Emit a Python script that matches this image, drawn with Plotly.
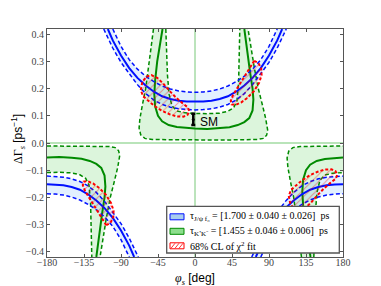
import plotly.graph_objects as go

# ---------------- ticks ----------------
x_ticks = [-180, -135, -90, -45, 0, 45, 90, 135, 180]
x_tick_labels = ["−180", "−135", "−90", "−45", "0", "45", "90", "135", "180"]
y_ticks = [0.4, 0.3, 0.2, 0.1, 0.0, -0.1, -0.2, -0.3, -0.4]
y_tick_labels = ["0.4", "0.3", "0.2", "0.1", "0.0", "−0.1", "−0.2", "−0.3", "−0.4"]

# ---------------- blue: tau_{J/psi f0} (upper half) ----------------
blue_phi_up = [-106, -100, -90, -80, -70, -60, -50, -40, -30, -20, -10, 0, 10, 20, 30, 40, 50, 60, 70, 80, 90, 100, 106]
blue_dg_up = [0.42, 0.378, 0.322, 0.276, 0.240, 0.212, 0.189, 0.172, 0.162, 0.156, 0.153, 0.152,
              0.153, 0.156, 0.162, 0.172, 0.189, 0.212, 0.240, 0.276, 0.322, 0.378, 0.42]
blue_hi_phi_up = [-100, -90, -80, -70, -60, -50, -40, -30, -20, -10, 0, 10, 20, 30, 40, 50, 60, 70, 80, 90, 100]
blue_hi_dg_up = [0.42, 0.356, 0.307, 0.272, 0.246, 0.226, 0.21, 0.199, 0.192, 0.188, 0.187,
                 0.188, 0.192, 0.199, 0.21, 0.226, 0.246, 0.272, 0.307, 0.356, 0.42]
blue_lo_phi_up = [-111, -100, -90, -80, -70, -60, -50, -40, -30, -20, -10, 0, 10, 20, 30, 40, 50, 60, 70, 80, 90, 100, 111]
blue_lo_dg_up = [0.42, 0.35, 0.297, 0.254, 0.215, 0.182, 0.158, 0.142, 0.132, 0.126, 0.123, 0.122,
                 0.123, 0.126, 0.132, 0.142, 0.158, 0.182, 0.215, 0.254, 0.297, 0.35, 0.42]

# ---------------- blue (lower half, right and left pieces) ----------------
blue_phi_lr = [74, 80, 90, 100, 110, 120, 130, 140, 150, 160, 170, 180]
blue_dg_lr = [-0.42, -0.378, -0.322, -0.276, -0.240, -0.212, -0.189, -0.172, -0.162, -0.156, -0.153, -0.152]
blue_phi_ll = [-180, -170, -160, -150, -140, -130, -120, -110, -100, -90, -80, -74]
blue_dg_ll = [-0.152, -0.153, -0.156, -0.162, -0.172, -0.189, -0.212, -0.240, -0.276, -0.322, -0.378, -0.42]
blue_hi_phi_lr = [80, 90, 100, 110, 120, 130, 140, 150, 160, 170, 180]
blue_hi_dg_lr = [-0.42, -0.356, -0.307, -0.272, -0.246, -0.226, -0.21, -0.199, -0.192, -0.188, -0.187]
blue_hi_phi_ll = [-180, -170, -160, -150, -140, -130, -120, -110, -100, -90, -80]
blue_hi_dg_ll = [-0.187, -0.188, -0.192, -0.199, -0.21, -0.226, -0.246, -0.272, -0.307, -0.356, -0.42]
blue_lo_phi_lr = [69, 80, 90, 100, 110, 120, 130, 140, 150, 160, 170, 180]
blue_lo_dg_lr = [-0.42, -0.35, -0.297, -0.254, -0.215, -0.182, -0.158, -0.142, -0.132, -0.126, -0.123, -0.122]
blue_lo_phi_ll = [-180, -170, -160, -150, -140, -130, -120, -110, -100, -90, -80, -69]
blue_lo_dg_ll = [-0.122, -0.123, -0.126, -0.132, -0.142, -0.158, -0.182, -0.215, -0.254, -0.297, -0.35, -0.42]

# ---------------- green: tau_{K+K-} (upper half) ----------------
green_phi_up = [-39.5, -43, -46, -48.5, -49.5, -48.5, -45, -40, -32, -22, -10, 0, 15, 30, 42, 52, 60, 66, 70, 71, 70, 67, 63.5, 60]
green_dg_up = [0.42, 0.36, 0.30, 0.23, 0.18, 0.135, 0.10, 0.08, 0.066, 0.059, 0.055, 0.053,
               0.052, 0.054, 0.058, 0.066, 0.077, 0.092, 0.12, 0.16, 0.20, 0.26, 0.34, 0.42]
green_in_phi_up = [-35.5, -34.5, -33.5, -31.5, -28, -22, -12, 0, 15, 30, 40, 47, 51, 53, 54, 54.5]
green_in_dg_up = [0.42, 0.33, 0.25, 0.18, 0.137, 0.118, 0.111, 0.109, 0.108, 0.11, 0.117, 0.13, 0.155, 0.22, 0.32, 0.42]
green_out_phi_up = [-50.5, -54, -57, -60, -64, -67, -68, -66, -61, -52, -30, 0, 30, 60, 76, 83, 87, 88.5, 86, 82, 77, 72, 68, 64.5]
green_out_dg_up = [0.42, 0.34, 0.26, 0.2, 0.14, 0.09, 0.055, 0.03, 0.017, 0.013, 0.012, 0.011,
                   0.011, 0.012, 0.013, 0.017, 0.028, 0.045, 0.09, 0.14, 0.2, 0.28, 0.35, 0.42]

# ---------------- green (lower half) ----------------
green_phi_lr = [140.5, 137, 134, 131.5, 130.5, 131.5, 135, 140, 148, 158, 170, 180]
green_dg_lr = [-0.42, -0.36, -0.30, -0.23, -0.18, -0.135, -0.10, -0.08, -0.066, -0.059, -0.055, -0.053]
green_phi_ll = [-180, -165, -150, -138, -128, -120, -114, -110, -109, -110, -113, -116.5, -120]
green_dg_ll = [-0.053, -0.052, -0.054, -0.058, -0.066, -0.077, -0.092, -0.12, -0.16, -0.20, -0.26, -0.34, -0.42]
green_in_phi_lr = [144.5, 145.5, 146.5, 148.5, 152, 158, 168, 180]
green_in_dg_lr = [-0.42, -0.33, -0.25, -0.18, -0.137, -0.118, -0.111, -0.109]
green_in_phi_ll = [-180, -165, -150, -140, -133, -129, -127, -126, -125.5]
green_in_dg_ll = [-0.109, -0.108, -0.11, -0.117, -0.13, -0.155, -0.22, -0.32, -0.42]
green_out_phi_lr = [129.5, 126, 123, 120, 116, 113, 112, 114, 119, 128, 150, 180]
green_out_dg_lr = [-0.42, -0.34, -0.26, -0.2, -0.14, -0.09, -0.055, -0.03, -0.017, -0.013, -0.012, -0.011]
green_out_phi_ll = [-180, -150, -120, -104, -97, -93, -91.5, -94, -98, -103, -108, -112, -115.5]
green_out_dg_ll = [-0.011, -0.011, -0.012, -0.013, -0.017, -0.028, -0.045, -0.09, -0.14, -0.2, -0.28, -0.35, -0.42]

# ---------------- red: 68% CL regions of chi^2 fit ----------------
red_ul_phi = [-66, -64, -59, -53, -46, -39, -31, -23, -15, -9, -7, -9, -14, -22, -31, -41, -50, -58, -63, -66]
red_ul_dg = [0.195, 0.225, 0.245, 0.25, 0.24, 0.22, 0.192, 0.167, 0.146, 0.132, 0.118, 0.104,
             0.097, 0.098, 0.106, 0.12, 0.138, 0.157, 0.172, 0.195]
red_ur_phi = [72, 77, 80.5, 81, 78, 72, 64, 56, 49, 44.5, 43.5, 46, 52, 59, 65, 69, 72]
red_ur_dg = [0.303, 0.295, 0.275, 0.25, 0.222, 0.192, 0.167, 0.149, 0.14, 0.142, 0.155, 0.175,
             0.205, 0.24, 0.272, 0.293, 0.303]
red_ll_phi = [-108, -103, -99.5, -99, -102, -108, -116, -124, -131, -135.5, -136.5, -134, -128, -121, -115, -111, -108]
red_ll_dg = [-0.303, -0.295, -0.275, -0.25, -0.222, -0.192, -0.167, -0.149, -0.14, -0.142, -0.155, -0.175,
             -0.205, -0.24, -0.272, -0.293, -0.303]
red_lr_phi = [114, 116, 121, 127, 134, 141, 149, 157, 165, 171, 173, 171, 166, 158, 149, 139, 130, 122, 117, 114]
red_lr_dg = [-0.195, -0.225, -0.245, -0.25, -0.24, -0.22, -0.192, -0.167, -0.146, -0.132, -0.118, -0.104,
             -0.097, -0.098, -0.106, -0.12, -0.138, -0.157, -0.172, -0.195]

# ---------------- Standard Model point ----------------
sm_phi = [-2.1]
sm_dg = [0.087]
sm_err = [0.021]

legend_labels = [
    "τ<sub>J/ψ f₀</sub> = [1.700 ± 0.040 ± 0.026]  ps",
    "τ<sub>K⁺K⁻</sub> = [1.455 ± 0.046 ± 0.006]  ps",
    "68% CL of χ<sup>2</sup> fit",
]

# ---------------- styles ----------------
BLUE = "#0010ff"
GREEN = "#008a00"
BLUE_FILL = "rgba(150,200,255,0.28)"
GREEN_FILL = "rgba(110,215,110,0.24)"
DASH = "4px,2.5px"

fig = go.Figure()


def add_band(phi_a, dg_a, phi_b, dg_b, color):
    fig.add_trace(go.Scatter(
        x=list(phi_a) + list(phi_b)[::-1], y=list(dg_a) + list(dg_b)[::-1],
        mode="none", fill="toself", fillcolor=color, hoverinfo="skip", showlegend=False))


def add_line(phi, dg, color, width, dash=None):
    fig.add_trace(go.Scatter(
        x=phi, y=dg, mode="lines", line=dict(color=color, width=width, dash=dash),
        hoverinfo="skip", showlegend=False))


# green bands
add_band(green_out_phi_up, green_out_dg_up, green_in_phi_up, green_in_dg_up, GREEN_FILL)
add_band(green_out_phi_lr, green_out_dg_lr, green_in_phi_lr, green_in_dg_lr, GREEN_FILL)
add_band(green_out_phi_ll, green_out_dg_ll, green_in_phi_ll, green_in_dg_ll, GREEN_FILL)
# blue bands
add_band(blue_hi_phi_up, blue_hi_dg_up, blue_lo_phi_up, blue_lo_dg_up, BLUE_FILL)
add_band(blue_hi_phi_lr, blue_hi_dg_lr, blue_lo_phi_lr, blue_lo_dg_lr, BLUE_FILL)
add_band(blue_hi_phi_ll, blue_hi_dg_ll, blue_lo_phi_ll, blue_lo_dg_ll, BLUE_FILL)

# reference lines at zero
fig.add_trace(go.Scatter(x=[-180, 180], y=[0, 0], mode="lines",
                         line=dict(color="rgb(185,228,185)", width=2), hoverinfo="skip", showlegend=False))
fig.add_trace(go.Scatter(x=[0, 0], y=[-0.42, 0.42], mode="lines",
                         line=dict(color="rgb(120,200,120)", width=1), hoverinfo="skip", showlegend=False))

# green lines
for p, d in [(green_out_phi_up, green_out_dg_up), (green_in_phi_up, green_in_dg_up),
             (green_out_phi_lr, green_out_dg_lr), (green_in_phi_lr, green_in_dg_lr),
             (green_out_phi_ll, green_out_dg_ll), (green_in_phi_ll, green_in_dg_ll)]:
    add_line(p, d, GREEN, 1.5, DASH)
for p, d in [(green_phi_up, green_dg_up), (green_phi_lr, green_dg_lr), (green_phi_ll, green_dg_ll)]:
    add_line(p, d, GREEN, 2)

# blue lines
for p, d in [(blue_hi_phi_up, blue_hi_dg_up), (blue_lo_phi_up, blue_lo_dg_up),
             (blue_hi_phi_lr, blue_hi_dg_lr), (blue_lo_phi_lr, blue_lo_dg_lr),
             (blue_hi_phi_ll, blue_hi_dg_ll), (blue_lo_phi_ll, blue_lo_dg_ll)]:
    add_line(p, d, BLUE, 1.5, DASH)
for p, d in [(blue_phi_up, blue_dg_up), (blue_phi_lr, blue_dg_lr), (blue_phi_ll, blue_dg_ll)]:
    add_line(p, d, BLUE, 2)

# red hatched regions
for p, d in [(red_ul_phi, red_ul_dg), (red_ur_phi, red_ur_dg), (red_ll_phi, red_ll_dg), (red_lr_phi, red_lr_dg)]:
    fig.add_trace(go.Scatter(
        x=p, y=d, mode="lines", fill="toself", fillcolor="rgba(0,0,0,0)",
        fillpattern=dict(shape="/", fgcolor="rgba(255,0,0,0.85)", bgcolor="rgba(0,0,0,0)",
                         size=5, solidity=0.18),
        line=dict(color="red", width=2, dash="3px,2px"), hoverinfo="skip", showlegend=False))

# SM point
fig.add_trace(go.Scatter(
    x=sm_phi, y=sm_dg, mode="markers", marker=dict(size=3, color="black"),
    error_y=dict(type="data", array=sm_err, color="black", thickness=2.5, width=2),
    hoverinfo="skip", showlegend=False))

# ---------------- layout ----------------
# the page body has an 8px margin, so the figure is sized to end at the window edge
OFF = 8
W, H = 381 - OFF, 286 - OFF
PL, PR, PT, PB = 47, 343, 29, 257          # plot area in window pixels
ML, MT = PL - OFF, PT - OFF
MR, MB = 381 - PR, 286 - PB
PW, PH = PR - PL, PB - PT


def px(xp):
    return (xp - PL) / PW


def py(yp):
    return (PB - yp) / PH


shapes = []
annotations = []
# legend box
shapes.append(dict(type="rect", xref="paper", yref="paper", x0=px(166.7), x1=px(339.3),
                   y0=py(253), y1=py(206.3), fillcolor="white",
                   line=dict(color="#555555", width=1.3), layer="above"))
rows = [216.8, 231.3, 245.8]
sw_fill = ["rgb(168,205,238)", "rgb(140,222,140)", "white"]
sw_line = [BLUE, GREEN, "red"]
for yc, f, lc, lab in zip(rows, sw_fill, sw_line, legend_labels):
    shapes.append(dict(type="rect", xref="paper", yref="paper", x0=px(170), x1=px(184),
                       y0=py(yc + 3), y1=py(yc - 3), fillcolor=f,
                       line=dict(color=lc, width=1), layer="above"))
    annotations.append(dict(xref="paper", yref="paper", x=px(187.5), y=py(yc), text=lab,
                            xanchor="left", yanchor="middle", showarrow=False,
                            font=dict(family="Liberation Serif", size=10, color="black")))
# hatching inside red swatch
for x0 in [171, 175, 179]:
    shapes.append(dict(type="line", xref="paper", yref="paper", x0=px(x0), x1=px(x0 + 4),
                       y0=py(rows[2] + 2.5), y1=py(rows[2] - 2.5),
                       line=dict(color="red", width=0.8), layer="above"))

# SM label
annotations.append(dict(x=3.5, y=0.076, xref="x", yref="y", text="SM", showarrow=False,
                        xanchor="left", yanchor="middle",
                        font=dict(family="Liberation Sans", size=12, color="black")))
# axis titles
annotations.append(dict(xref="paper", yref="paper", x=px(195), y=py(279),
                        text='<span style="font-family:Liberation Serif"><i>φ</i><sub><i>s</i></sub></span> [deg]',
                        showarrow=False, xanchor="center", yanchor="middle",
                        font=dict(family="Liberation Sans", size=12, color="black")))
annotations.append(dict(xref="paper", yref="paper", x=px(18), y=py(139), textangle=-90,
                        text='<span style="font-family:Liberation Serif">ΔΓ<sub><i>s</i></sub></span> [ps<sup>−1</sup>]',
                        showarrow=False, xanchor="center", yanchor="middle",
                        font=dict(family="Liberation Sans", size=12, color="black")))

axis_common = dict(showgrid=False, zeroline=False, showline=True, linecolor="#555555", linewidth=1.2,
                   mirror="ticks", ticks="inside", ticklen=3, tickcolor="#555555", tickwidth=1,
                   tickfont=dict(family="Liberation Serif", size=10, color="#444444"))

fig.update_layout(
    width=W, height=H, margin=dict(l=ML, r=MR, t=MT, b=MB),
    plot_bgcolor="white", paper_bgcolor="white", showlegend=False,
    xaxis=dict(range=[-180, 180], tickvals=x_ticks, ticktext=x_tick_labels,
               ticklabelstandoff=-4, **axis_common),
    yaxis=dict(range=[-0.42, 0.42], tickvals=y_ticks, ticktext=y_tick_labels, **axis_common),
    shapes=shapes, annotations=annotations,
)

fig.write_html("out.html")
